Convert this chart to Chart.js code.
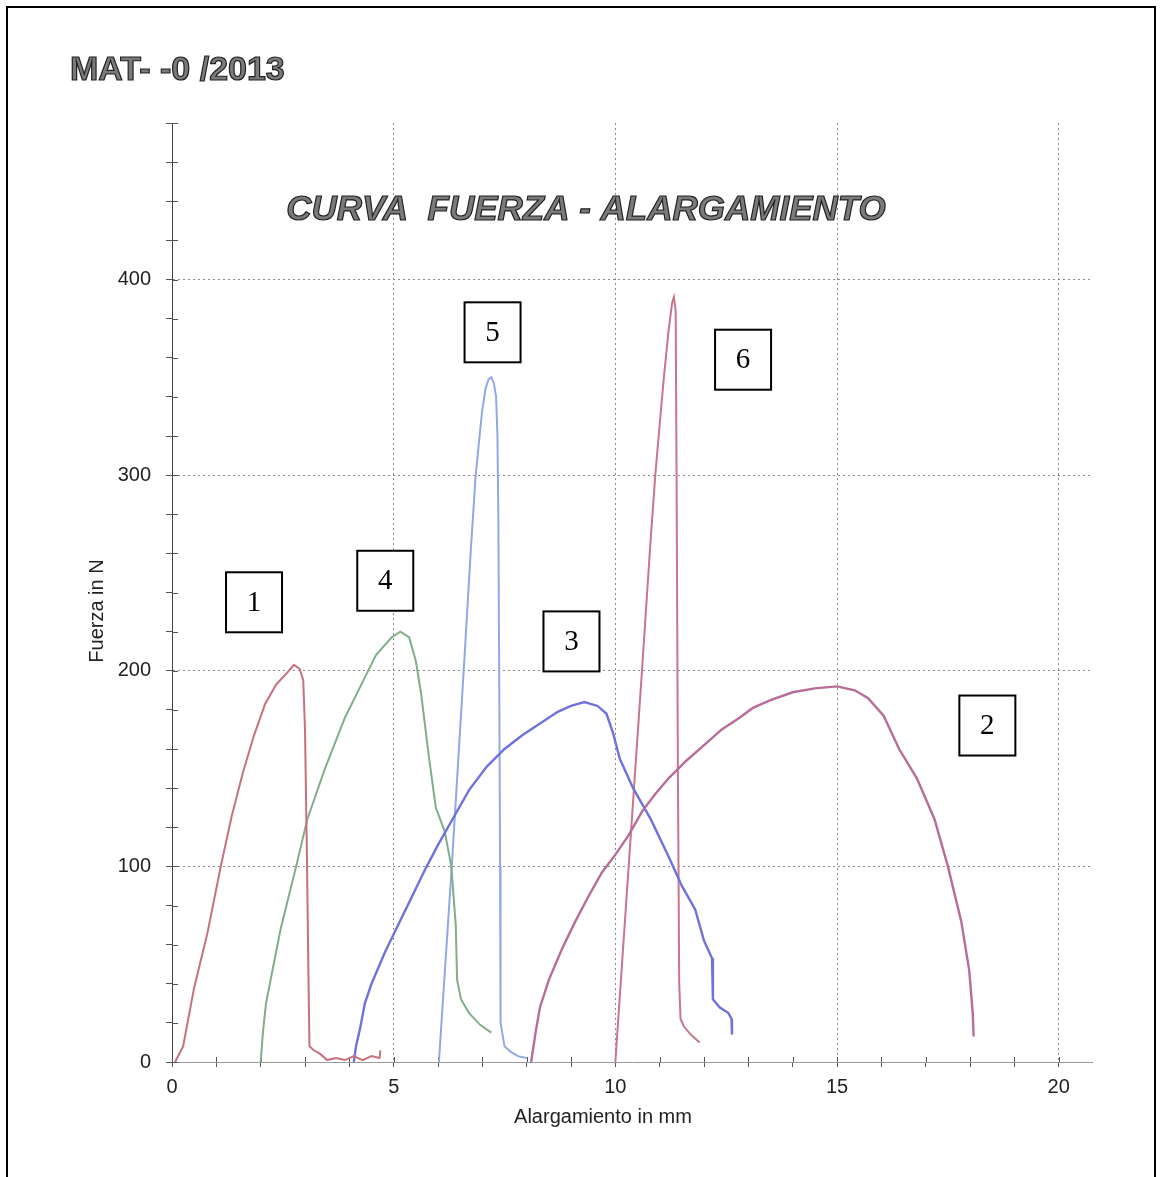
<!DOCTYPE html>
<html>
<head>
<meta charset="utf-8">
<script src="https://cdn.jsdelivr.net/npm/chart.js@4.4.1/dist/chart.umd.min.js"></script>
<style>
  html, body { margin: 0; padding: 0; background: #fff; overflow: hidden; }
  #wrap { position: relative; width: 1167px; height: 1177px; }
  #grafico { position: absolute; left: 0; top: 0; }
  #marco { position: absolute; left: 6px; top: 6px; width: 1150px; height: 1300px; border: 2px solid #000; box-sizing: border-box; pointer-events: none; }
</style>
</head>
<body>
<div id="wrap">
  <canvas id="grafico" width="1167" height="1177"></canvas>
  <div id="marco"></div>
</div>
<script>
// curvas: [alargamiento mm, fuerza N]
const curva1 = [[0.07,0],[0.25,8],[0.5,38],[0.8,66],[1.1,100],[1.35,126],[1.6,148],[1.85,167],[2.1,183],[2.35,193],[2.6,199],[2.75,203],[2.88,201],[2.96,195],[3.0,170],[3.04,110],[3.08,40],[3.1,8],[3.2,6],[3.35,4],[3.5,1],[3.7,2],[3.9,1],[4.1,3],[4.3,1],[4.5,3],[4.68,2],[4.7,6]];
const curva2 = [[8.1,0],[8.2,15],[8.3,28],[8.5,42],[8.8,58],[9.1,72],[9.4,85],[9.7,97],[10.0,106],[10.3,116],[10.6,128],[10.9,137],[11.2,145],[11.6,154],[12.0,162],[12.4,170],[12.8,176],[13.1,181],[13.5,185],[14.0,189],[14.5,191],[15.0,192],[15.4,190],[15.7,186],[16.05,177],[16.4,160],[16.8,145],[17.2,124],[17.5,100],[17.8,72],[17.98,47],[18.06,25],[18.08,13]];
const curva3 = [[4.1,0],[4.15,8],[4.25,18],[4.35,30],[4.5,40],[4.8,56],[5.1,70],[5.4,84],[5.7,98],[6.0,111],[6.35,125],[6.7,139],[7.1,151],[7.5,160],[7.9,167],[8.3,173],[8.7,179],[9.0,182],[9.3,184],[9.6,182],[9.8,178],[9.95,168],[10.1,155],[10.4,140],[10.8,124],[11.2,105],[11.5,90],[11.8,78],[12.0,62],[12.18,53],[12.2,32],[12.35,28],[12.55,25],[12.62,22],[12.63,14]];
const curva4 = [[2.0,0],[2.05,15],[2.12,30],[2.25,45],[2.45,68],[2.8,100],[3.05,124],[3.45,150],[3.9,176],[4.25,192],[4.6,208],[4.95,217],[5.15,220],[5.35,217],[5.5,205],[5.62,188],[5.8,155],[5.95,130],[6.15,118],[6.3,100],[6.4,70],[6.43,42],[6.52,32],[6.7,25],[6.95,19],[7.2,15]];
const curva5 = [[6.02,0],[6.15,45],[6.31,100],[6.45,152],[6.6,208],[6.74,262],[6.85,300],[6.99,332],[7.07,344],[7.14,349],[7.2,350],[7.26,347],[7.31,340],[7.34,320],[7.36,280],[7.38,200],[7.4,100],[7.41,20],[7.5,8],[7.65,5],[7.8,3],[8.0,2]];
const curva6 = [[10.0,0],[10.14,47],[10.3,100],[10.45,150],[10.6,200],[10.78,262],[10.9,300],[11.0,326],[11.09,349],[11.2,374],[11.28,388],[11.32,391],[11.36,384],[11.38,300],[11.41,150],[11.44,40],[11.47,22],[11.55,18],[11.7,14],[11.9,10]];

// etiquetas numeradas de cada ensayo (posición en unidades del gráfico)
const etiquetas = ['1', '2', '3', '4', '5', '6'];
const etiquetaX = [1.85, 18.39, 9.01, 4.81, 7.23, 12.88];
const etiquetaY = [235, 172, 215, 246, 373, 359];

const ticksX = [0, 5, 10, 15, 20];
const ticksY = [0, 100, 200, 300, 400];

const encabezado = 'MAT- -0 /2013';
const titulo = 'CURVA  FUERZA - ALARGAMIENTO';
const tituloX = 'Alargamiento in mm';
const tituloY = 'Fuerza in N';

const FUENTE = '"Liberation Sans", Arial, sans-serif';

function serie(puntos, color, ancho) {
    return {
        data: puntos.map(p => ({x: p[0], y: p[1]})),
        showLine: true,
        borderColor: color,
        borderWidth: ancho,
        pointRadius: 0,
        tension: 0,
        fill: false
    };
}

const decoracion = {
    id: 'decoracion',
    beforeDatasetsDraw(chart) {
        const {ctx, scales: {x, y}} = chart;
        ctx.save();
        ctx.strokeStyle = '#555';
        ctx.lineWidth = 1;
        // marcas hacia dentro del área
        x.ticks.forEach(t => {
            const px = Math.round(x.getPixelForValue(t.value)) + 0.5;
            ctx.beginPath();
            ctx.moveTo(px, y.bottom - 5);
            ctx.lineTo(px, y.bottom);
            ctx.stroke();
        });
        y.ticks.forEach(t => {
            const py = Math.round(y.getPixelForValue(t.value)) + 0.5;
            ctx.beginPath();
            ctx.moveTo(x.left, py);
            ctx.lineTo(x.left + 6, py);
            ctx.stroke();
        });
        ctx.restore();
    },
    afterDraw(chart) {
        const {ctx, scales: {x, y}} = chart;
        ctx.save();

        // encabezado
        ctx.font = 'bold 34px ' + FUENTE;
        ctx.textAlign = 'left';
        ctx.textBaseline = 'alphabetic';
        ctx.fillStyle = '#7a7a7a';
        ctx.strokeStyle = '#222';
        ctx.lineWidth = 1.2;
        ctx.fillText(encabezado, 70, 80);
        ctx.strokeText(encabezado, 70, 80);

        // título
        ctx.font = 'italic bold 35px ' + FUENTE;
        ctx.textAlign = 'center';
        ctx.fillText(titulo, 586, 220);
        ctx.strokeText(titulo, 586, 220);

        // títulos de ejes
        ctx.fillStyle = '#222';
        ctx.font = '20px ' + FUENTE;
        ctx.textBaseline = 'middle';
        ctx.fillText(tituloX, 603, 1117);
        ctx.save();
        ctx.translate(97, 611);
        ctx.rotate(-Math.PI / 2);
        ctx.fillText(tituloY, 0, 0);
        ctx.restore();

        // recuadros numerados
        ctx.font = '29px "Liberation Serif", "Times New Roman", serif';
        ctx.lineWidth = 2;
        ctx.strokeStyle = '#000';
        etiquetas.forEach((txt, i) => {
            const cx = x.getPixelForValue(etiquetaX[i]);
            const cy = y.getPixelForValue(etiquetaY[i]);
            const w = 56, h = 60;
            ctx.fillStyle = '#fff';
            ctx.fillRect(cx - w / 2, cy - h / 2, w, h);
            ctx.strokeRect(cx - w / 2, cy - h / 2, w, h);
            ctx.fillStyle = '#000';
            ctx.fillText(txt, cx, cy + 1);
        });
        ctx.restore();
    }
};

document.addEventListener('DOMContentLoaded', function() {
    const ctx = document.getElementById('grafico').getContext('2d');
    new Chart(ctx, {
        type: 'scatter',
        data: {
            datasets: [
                serie(curva1, '#c8707c', 2),
                serie(curva2, '#b86c98', 2.4),
                serie(curva3, '#6f72dc', 2.4),
                serie(curva4, '#7fae88', 2),
                serie(curva5, '#8ea8e8', 2),
                serie(curva6, '#c87688', 2)
            ]
        },
        options: {
            responsive: false,
            animation: false,
            devicePixelRatio: 1,
            layout: { padding: { top: 123, left: 82, right: 75, bottom: 45 } },
            plugins: { legend: { display: false }, tooltip: { enabled: false } },
            scales: {
                x: {
                    type: 'linear',
                    min: 0,
                    max: 20.75,
                    afterFit: s => { s.height = 70; },
                    ticks: {
                        stepSize: 1,
                        autoSkip: false,
                        includeBounds: false,
                        maxRotation: 0,
                        padding: 8,
                        color: '#222',
                        font: { family: FUENTE, size: 20 },
                        callback: v => ticksX.includes(v) ? String(v) : ''
                    },
                    grid: {
                        color: c => (c.tick && c.tick.value % 5 === 0 && c.tick.value > 0) ? '#8a8a8a' : 'rgba(0,0,0,0)',
                        tickColor: '#555',
                        tickLength: 5,
                        lineWidth: 1
                    },
                    border: { color: '#9a9a9a', width: 1, dash: [2, 3] }
                },
                y: {
                    type: 'linear',
                    min: 0,
                    max: 480,
                    afterFit: s => { s.width = 90; },
                    ticks: {
                        stepSize: 20,
                        autoSkip: false,
                        includeBounds: false,
                        padding: 15,
                        color: '#222',
                        font: { family: FUENTE, size: 20 },
                        callback: v => ticksY.includes(v) ? String(v) : ''
                    },
                    grid: {
                        color: c => (c.tick && c.tick.value % 100 === 0 && c.tick.value > 0 && c.tick.value <= 400) ? '#8a8a8a' : 'rgba(0,0,0,0)',
                        tickColor: '#555',
                        tickLength: 6,
                        lineWidth: 1
                    },
                    border: { color: '#444', width: 1, dash: [2, 3] }
                }
            }
        },
        plugins: [decoracion]
    });
});
</script>
</body>
</html>
